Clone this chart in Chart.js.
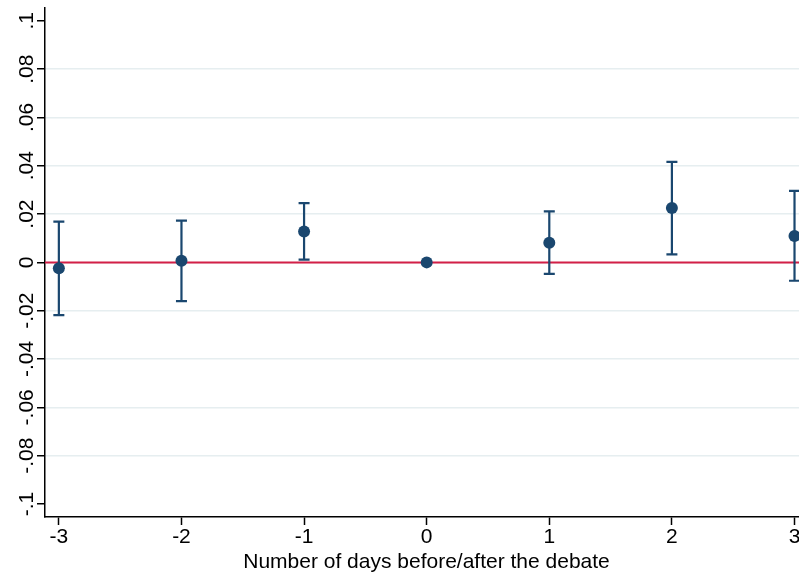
<!DOCTYPE html>
<html><head><meta charset="utf-8">
<script src="https://cdn.jsdelivr.net/npm/chart.js@4"></script>
<style>html,body{margin:0;padding:0;overflow:hidden;background:#fff;width:799px;height:574px}canvas{display:block}</style>
</head><body><canvas id="c" width="808" height="574" style="width:808px;height:574px"></canvas>
<script>
// ---- data ----
const days   = [-3, -2, -1, 0, 1, 2, 3];
const coef   = [-0.0024, 0.0007, 0.0128, 0, 0.0081, 0.0225, 0.0109];
const ciLow  = [-0.0218, -0.0160, 0.0011, 0, -0.0048, 0.0033, -0.0076];
const ciHigh = [0.0169, 0.0173, 0.0245, 0, 0.0211, 0.0416, 0.0296];
const yTicks = [-0.1, -0.08, -0.06, -0.04, -0.02, 0, 0.02, 0.04, 0.06, 0.08, 0.1];
const xTicks = [-3, -2, -1, 0, 1, 2, 3];
const xTickLabels = ["-3", "-2", "-1", "0", "1", "2", "3"];
const refLineY = 0;
const xTitle = "Number of days before/after the debate";

const X_MIN = -3.113, X_MAX = 3.11, Y_MIN = -0.1054, Y_MAX = 0.1053;
const NAVY = '#1a476f', RED = '#d31f47', GRID = '#e6eef0';
const FONT = '"Liberation Sans", Arial, Helvetica, sans-serif';

function stataFmt(v) {
  if (Math.abs(v) < 1e-9) return '0';
  const s = String(+Math.abs(v).toFixed(2)).replace(/^0/, '');
  return (v < 0 ? '-' : '') + s;
}

const custom = {
  id: 'custom',
  afterDatasetDraw(chart, args) {
    if (args.index !== 0) return;
    const ctx = chart.ctx, xs = chart.scales.x, ys = chart.scales.y;
    ctx.save();
    ctx.strokeStyle = NAVY; ctx.lineWidth = 2.2; ctx.lineCap = 'butt';
    for (let i = 0; i < days.length; i++) {
      if (ciLow[i] === ciHigh[i]) continue;
      const px = xs.getPixelForValue(days[i]);
      const y1 = ys.getPixelForValue(ciLow[i]), y2 = ys.getPixelForValue(ciHigh[i]);
      ctx.beginPath();
      ctx.moveTo(px, y1); ctx.lineTo(px, y2);
      ctx.moveTo(px - 5.5, y1); ctx.lineTo(px + 5.5, y1);
      ctx.moveTo(px - 5.5, y2); ctx.lineTo(px + 5.5, y2);
      ctx.stroke();
    }
    ctx.restore();
  },
  afterDraw(chart) {
    const ctx = chart.ctx, ys = chart.scales.y, ca = chart.chartArea;
    ctx.save();
    ctx.fillStyle = '#000';
    ctx.font = '21px ' + FONT;
    ctx.textAlign = 'center'; ctx.textBaseline = 'alphabetic';
    yTicks.forEach(v => {
      const py = ys.getPixelForValue(v);
      ctx.save();
      ctx.translate(33, py);
      ctx.rotate(-Math.PI / 2);
      ctx.fillText(stataFmt(v), 0, 0);
      ctx.restore();
    });
    ctx.font = '21px ' + FONT;
    ctx.fillText(xTitle, (ca.left + ca.right) / 2, 568);
    ctx.restore();
  }
};

new Chart(document.getElementById('c'), {
  type: 'scatter',
  data: {
    datasets: [
      {
        data: [{x: X_MIN, y: refLineY}, {x: X_MAX, y: refLineY}],
        showLine: true, borderColor: RED, borderWidth: 2, pointRadius: 0, order: 2
      },
      {
        data: days.map((d, i) => ({x: d, y: coef[i]})),
        pointRadius: 6, pointBackgroundColor: NAVY, pointBorderWidth: 0,
        borderColor: NAVY, showLine: false, order: 1, clip: false
      }
    ]
  },
  options: {
    responsive: false, animation: false,
    layout: {autoPadding: false, padding: {top: 8, left: 0, right: 0, bottom: 0}},
    plugins: {legend: {display: false}, tooltip: {enabled: false}},
    scales: {
      x: {
        type: 'linear', min: X_MIN, max: X_MAX,
        afterBuildTicks: s => { s.ticks = xTicks.map(v => ({value: v})); },
        afterFit: s => { s.height = 57; },
        ticks: {
          callback: (v) => xTickLabels[xTicks.indexOf(v)] ?? '',
          color: '#000', font: {family: FONT, size: 21}, padding: 0, maxRotation: 0, autoSkip: false
        },
        grid: {drawOnChartArea: false, drawTicks: true, tickLength: 8, tickColor: '#000', tickWidth: 1.5},
        border: {color: '#000', width: 1.5}
      },
      y: {
        type: 'linear', min: Y_MIN, max: Y_MAX,
        afterBuildTicks: s => { s.ticks = yTicks.map(v => ({value: v})); },
        afterFit: s => { s.width = 45; },
        ticks: {display: false},
        grid: {
          color: c => (c.tick && Math.abs(Math.abs(c.tick.value) - 0.1) < 1e-6) ? 'rgba(0,0,0,0)' : GRID,
          lineWidth: 1.5, drawTicks: true, tickLength: 8, tickColor: '#000', tickWidth: 1.5
        },
        border: {color: '#000', width: 1.5}
      }
    }
  },
  plugins: [custom]
});
</script>
</body></html>
